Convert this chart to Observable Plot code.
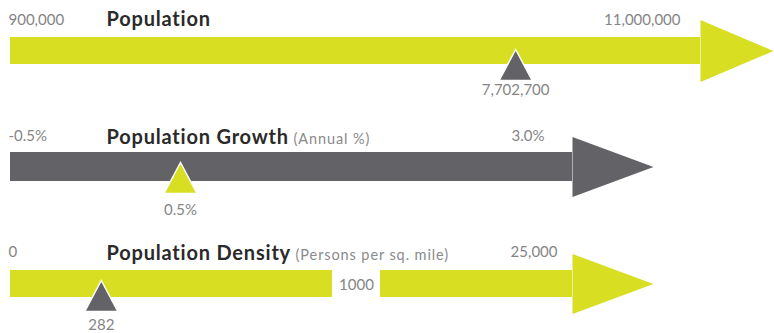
<!DOCTYPE html>
<html><head><meta charset="utf-8">
<script src="https://cdn.jsdelivr.net/npm/d3@7"></script>
<script src="https://cdn.jsdelivr.net/npm/@observablehq/plot@0.6"></script>
<style>body{margin:0;background:#fff} #chart{width:774px;height:333px} svg{display:block}</style>
</head><body><div id="chart"></div>
<script>
// ---- data ----
const rowTitles = ["Population", "Population Growth", "Population Density"];
const rowSubtitles = ["", "(Annual %)", "(Persons per sq. mile)"];
const rowMin = [900000, -0.5, 0];
const rowMax = [11000000, 3.0, 25000];
const rowBreak = [null, null, 1000];
const rowValue = [7702700, 0.5, 282];
const minLabels = ["900,000", "-0.5%", "0"];
const maxLabels = ["11,000,000", "3.0%", "25,000"];
const valueLabels = ["7,702,700", "0.5%", "282"];
const breakLabels = [null, null, "1000"];

// ---- style / layout ----
const YELLOW = "#d8df22", GRAY = "#636367";
const layout = [
  {h:110, range:[10,760], shaftTop:37, shaftH:27, headDx:-60, headLen:73, headHalf:31, headY:50.5, markY:49, labelY:20, titleY:19, valueY:90, maxDx:-80, fill:YELLOW, mark:GRAY},
  {h:112, range:[10,605], shaftTop:42, shaftH:29, headDx:-33, headLen:81, headHalf:30, headY:56.5, markY:52, labelY:26, titleY:27, valueY:100, maxDx:-61, fill:GRAY, mark:YELLOW},
  {h:111, range:[10,572], breakPx:322, shaftTop:48, shaftH:27, headDx:0, headLen:81, headHalf:30, headY:61.5, markY:58, labelY:30, titleY:31, valueY:103, maxDx:-15, fill:YELLOW, mark:GRAY, breakGap:48, breakY:63}
];

const headSymbol = (len, half) => ({draw(ctx){ctx.moveTo(0,-half);ctx.lineTo(len,0);ctx.lineTo(0,half);ctx.closePath();}});
const markerSymbol = {draw(ctx){ctx.moveTo(0,0);ctx.lineTo(16.5,31);ctx.lineTo(-16.5,31);ctx.closePath();}};

const chart = document.getElementById("chart");
const numStyle = {fontFamily:"Lato", fontSize:15, fill:"#858585", frameAnchor:"top", lineAnchor:"middle"};

rowTitles.forEach((title, i) => {
  const L = layout[i];
  const min = rowMin[i], max = rowMax[i], brk = rowBreak[i];
  const span = L.range[1] - L.range[0];
  // broken axis: [min, brk] gets breakPx pixels, [brk, max] the rest
  const xScale = brk == null
    ? {domain:[min, max], range:L.range}
    : {domain:[0, span], range:L.range,
       transform: v => v <= brk ? (v - min) / (brk - min) * L.breakPx
                                : L.breakPx + (v - brk) / (max - brk) * (span - L.breakPx)};
  const insetTop = L.shaftTop, insetBottom = L.h - L.shaftTop - L.shaftH;
  const segments = brk == null ? [{x1:min, x2:max, gap:0}] : [{x1:min, x2:brk, gap:0}, {x1:brk, x2:max, gap:L.breakGap}];
  const marks = [];
  segments.forEach(s => {
    marks.push(Plot.barX([s], {x1:"x1", x2:"x2", fill:L.fill, insetTop, insetBottom, insetLeft:s.gap, insetRight: s.x2 === max ? -L.headDx : 0}));
  });
  marks.push(Plot.dot([max], {x:d=>d, symbol:headSymbol(L.headLen, L.headHalf), fill:L.fill, stroke:"none", frameAnchor:"top", dy:L.headY, dx:L.headDx}));
  marks.push(Plot.dot([rowValue[i]], {x:d=>d, symbol:markerSymbol, fill:L.mark, stroke:"#ffffff", strokeWidth:1.5, frameAnchor:"top", dy:L.markY}));
  marks.push(Plot.text([min], {x:d=>d, text:[minLabels[i]], textAnchor:"start", dx:-2, dy:L.labelY, ...numStyle}));
  marks.push(Plot.text([max], {x:d=>d, text:[maxLabels[i]], textAnchor:"end", dx:L.maxDx, dy:L.labelY, ...numStyle}));
  marks.push(Plot.text([rowValue[i]], {x:d=>d, text:[valueLabels[i]], textAnchor:"middle", dy:L.valueY, ...numStyle}));
  if (brk != null) marks.push(Plot.text([brk], {x:d=>d, text:[breakLabels[i]], textAnchor:"middle", dx:L.breakGap/2, dy:L.breakY, ...numStyle}));
  marks.push(Plot.text([min], {x:d=>d, text:[title], textAnchor:"start", dx:96, dy:L.titleY, frameAnchor:"top", lineAnchor:"middle", fontFamily:"Lato", fontSize:20, fontWeight:"bold", fill:"#2a2a2a"}));

  const svg = Plot.plot({
    width:774, height:L.h, margin:0,
    x:{...xScale, axis:null},
    style:{fontFamily:"Lato", overflow:"visible", background:"transparent"},
    marks
  });
  const titleSel = d3.select(svg).selectAll("text").filter(function(){return this.textContent === title;})
    .attr("letter-spacing", "0.8px");
  if (rowSubtitles[i]) {
    titleSel.append("tspan").attr("font-size", 14.5).attr("font-weight", "normal").attr("fill", "#8a8a8a")
      .attr("letter-spacing", "0.9px").text(" " + rowSubtitles[i]);
  }
  chart.appendChild(svg);
});
</script>
</body></html>
